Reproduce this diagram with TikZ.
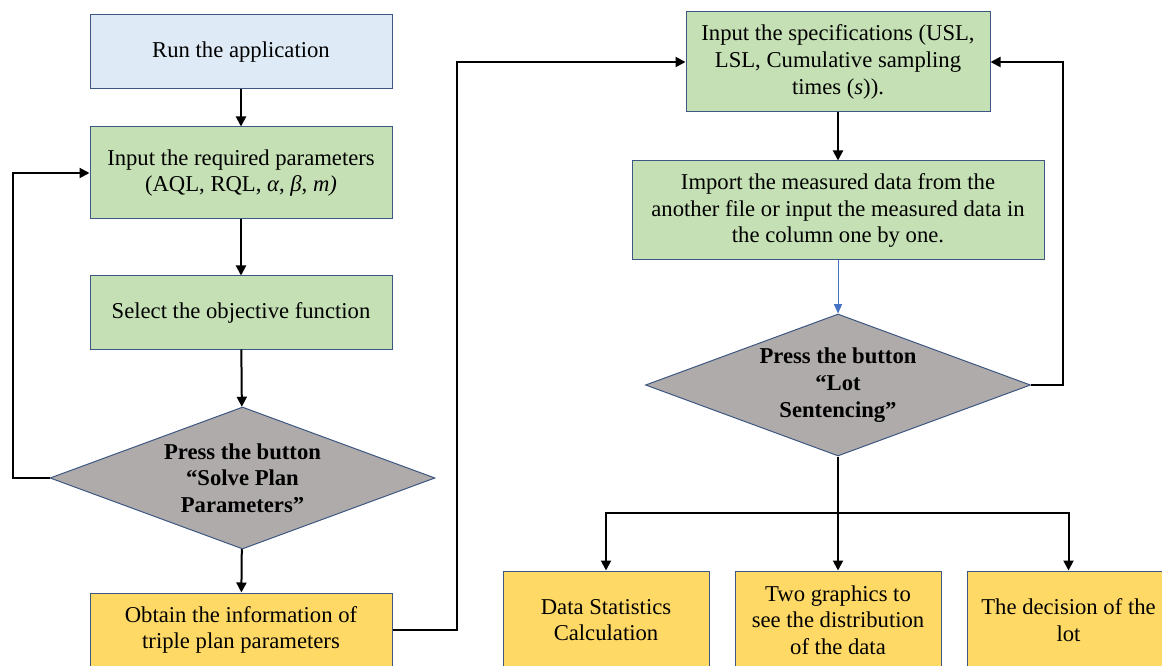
\documentclass[tikz,border=0pt]{standalone}
\usepackage{fontspec}
\setmainfont{Liberation Serif}
\usetikzlibrary{shapes.geometric,arrows.meta}
\definecolor{bluefill}{RGB}{222,235,247}
\definecolor{greenfill}{RGB}{197,224,180}
\definecolor{grayfill}{RGB}{175,171,171}
\definecolor{yellowfill}{RGB}{255,217,102}
\definecolor{edgeblue}{RGB}{61,86,130}
\definecolor{arrowblue}{RGB}{68,114,196}
\tikzset{
  box/.style={draw=edgeblue, line width=0.75pt, rectangle, align=center, inner sep=2pt,
    font=\fontsize{17}{20}\selectfont},
  dec/.style={draw=edgeblue, line width=0.75pt, diamond, aspect=2.7, inner sep=0pt, align=center,
    fill=grayfill, minimum width=288.75pt, minimum height=106.5pt,
    font=\fontsize{17}{20}\selectfont\bfseries},
  arr/.style={line width=1.5pt, -{Triangle[width=7.5pt,length=7.5pt]}},
  plain/.style={line width=1.5pt},
  barr/.style={line width=0.75pt, draw=arrowblue, -{Triangle[width=6pt,length=7pt]}, arrowblue}
}
\begin{document}
\begin{tikzpicture}[x=0.75pt,y=-0.75pt]
\useasboundingbox (0,0) rectangle (1162,666);
\clip (0,0) rectangle (1162,666);
% left column
\node[box, fill=bluefill, minimum width=226.5pt, minimum height=55.5pt] (run) at (241,52) {Run the application};
\node[box, fill=greenfill, minimum width=226.5pt, minimum height=69pt] (params) at (241,173)
  {Input the required parameters\\(AQL, RQL, \textit{α}, \textit{β}, \textit{m)}};
\node[box, fill=greenfill, minimum width=226.5pt, minimum height=54.75pt] (select) at (241,312.5) {Select the objective function};
\node[dec] (d1) at (242.5,478) {Press the button\\“Solve Plan\\Parameters”};
\node[box, fill=yellowfill, minimum width=226.5pt, minimum height=55.5pt] (obtain) at (241,630)
  {Obtain the information of\\triple plan parameters};
% right column
\node[box, fill=greenfill, minimum width=228pt, minimum height=75pt] (spec) at (838,62)
  {Input the specifications (USL,\\LSL, Cumulative sampling\\times (\textit{s}))\kern0pt.};
\node[box, fill=greenfill, minimum width=309pt, minimum height=74.25pt] (imp) at (838,210.5)
  {Import the measured data from the\\another file or input the measured data in\\the column one by one.};
\node[dec] (lot) at (838,385) {Press the button\\“Lot\\Sentencing”};
\node[box, fill=yellowfill, minimum width=154.5pt, minimum height=73.5pt] (data) at (606,620)
  {Data Statistics\\Calculation};
\node[box, fill=yellowfill, minimum width=154.5pt, minimum height=73.5pt] (two) at (838,620)
  {Two graphics to\\see the distribution\\of the data};
\node[box, fill=yellowfill, minimum width=152pt, minimum height=73.5pt] (decis) at (1068.5,620)
  {The decision of the\\lot};
% helper coordinates
\coordinate (fbl) at (13,0);
\coordinate (fbm) at (457,0);
\coordinate (fbr) at (1063,0);
\coordinate (split) at (838,513);
% connectors
\draw[arr] (run) -- (params);
\draw[arr] (params) -- (select);
\draw[arr] (select) -- (d1);
\draw[arr] (d1) -- (obtain);
\draw[arr] (d1.west) -- (d1.west -| fbl) |- (params.west);
\draw[arr] (obtain.east) -- (obtain.east -| fbm) |- (spec.west);
\draw[arr] (spec) -- (imp);
\draw[barr] (imp) -- (lot);
\draw[arr] (lot.east) -- (lot.east -| fbr) |- (spec.east);
\draw[plain] (lot.south) -- (split);
\draw[arr] (split) -| (data.north);
\draw[arr] (split) -- (two.north);
\draw[arr] (split) -| (decis.north);
\end{tikzpicture}
\end{document}
